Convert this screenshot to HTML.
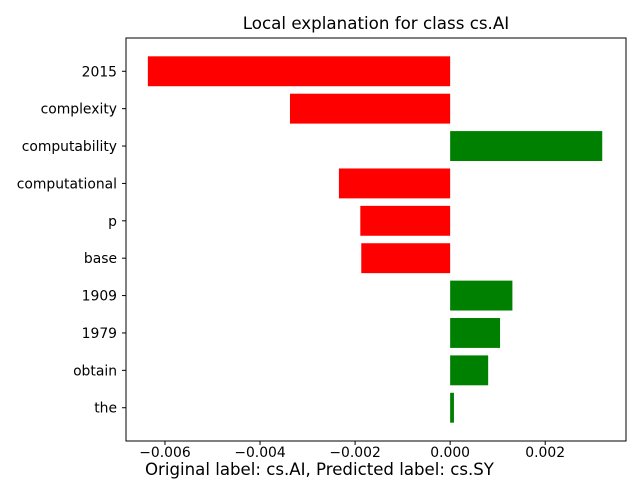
<!DOCTYPE html>
<html><head><meta charset="utf-8"><style>
body{margin:0;background:#fff;}
svg text{font-family:"DejaVu Sans","Liberation Sans",sans-serif;}
</style></head><body>
<svg width="640" height="480">
<text x="376" y="29" font-size="16.7" text-anchor="middle">Local explanation for class cs.AI</text>
<g id="bars"></g>
<g id="yticks"></g>
<g id="xticks"></g>
<rect x="126" y="38" width="500" height="403" fill="none" stroke="#000" stroke-width="1"/>
<text x="145" y="475" font-size="16.6">Original label: cs.AI, Predicted label: cs.SY</text>
</svg>
<script>
const features = ["2015","complexity","computability","computational","p","base","1909","1979","obtain","the"];
const weights = [-0.00636,-0.00337,0.0032,-0.00234,-0.00189,-0.00187,0.00131,0.00105,0.0008,0.00008];
const xTickValues = [-0.006,-0.004,-0.002,0,0.002];
const xTickLabels = ["\u22120.006","\u22120.004","\u22120.002","0.000","0.002"];
const NS="http://www.w3.org/2000/svg";
const L=126,R=626,T=38,B=441;
const xmin=-0.00682,xmax=0.00370;
const x=v=>L+(v-xmin)/(xmax-xmin)*(R-L);
const n=features.length;
const ymin=-0.89,ymax=n-1+0.89;
const y=i=>B-(i-ymin)/(ymax-ymin)*(B-T);
function mk(t,a,p){const e=document.createElementNS(NS,t);for(const k in a)e.setAttribute(k,a[k]);p.appendChild(e);return e;}
const gb=document.getElementById('bars'),gy=document.getElementById('yticks'),gx=document.getElementById('xticks');
const bh=0.8*(B-T)/(ymax-ymin);
features.forEach((f,k)=>{
  const i=n-1-k, w=weights[k], cy=y(i);
  const r=mk('rect',{x:Math.min(x(0),x(w)),y:cy-bh/2,width:Math.abs(x(w)-x(0)),height:bh,fill:w<0?'#ff0000':'#008000'},gb);
  
  
  mk('line',{x1:L-4,x2:L,y1:cy,y2:cy,stroke:'#000'},gy);
  const t=mk('text',{x:L-9,y:cy+5,'font-size':13.9,'text-anchor':'end'},gy);
  t.textContent=f;
  
  
});
xTickValues.forEach((v,j)=>{
  const px=x(v);
  mk('line',{x1:px,x2:px,y1:B,y2:B+4,stroke:'#000'},gx);
  const t=mk('text',{x:px,y:B+16,'font-size':13.9,'text-anchor':'middle'},gx);
  t.textContent=xTickLabels[j];
  
  
});
</script>
</body></html>
